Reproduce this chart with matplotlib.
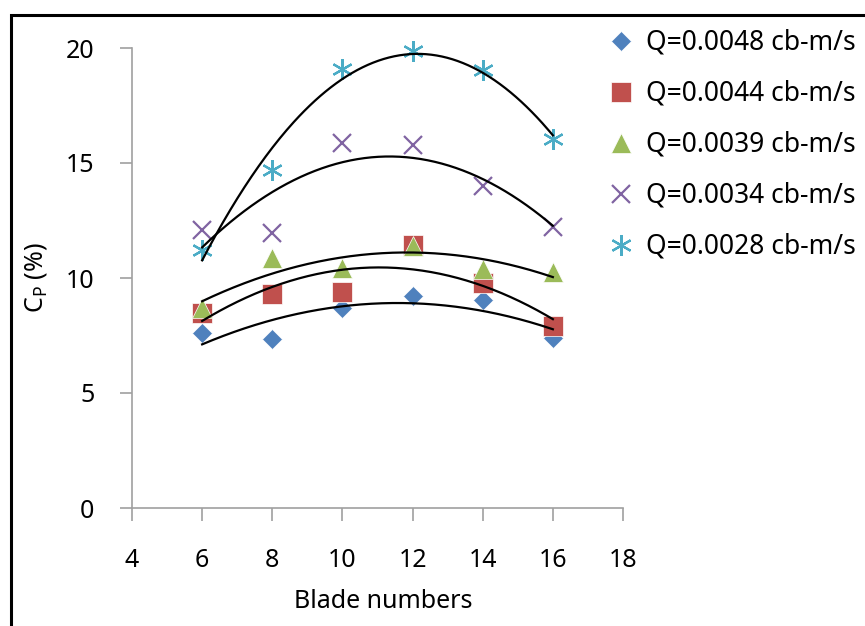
import matplotlib
matplotlib.use("Agg")
import matplotlib.pyplot as plt
from matplotlib.patches import Rectangle
import numpy as np

plt.rcParams['font.family'] = ['Noto Sans', 'DejaVu Sans']

# blade numbers and power coefficient (%) per flow rate
blades = [6, 8, 10, 12, 14, 16]
cp_48 = [7.6, 7.35, 8.7, 9.2, 9.05, 7.4]
cp_44 = [8.5, 9.3, 9.4, 11.45, 9.8, 7.9]
cp_39 = [8.7, 10.85, 10.45, 11.4, 10.4, 10.25]
cp_34 = [12.1, 11.95, 15.85, 15.8, 14.0, 12.2]
cp_28 = [11.2, 14.7, 19.1, 19.85, 19.05, 16.05]

labels = ["Q=0.0048 cb-m/s", "Q=0.0044 cb-m/s", "Q=0.0039 cb-m/s",
          "Q=0.0034 cb-m/s", "Q=0.0028 cb-m/s"]
series = [cp_48, cp_44, cp_39, cp_34, cp_28]
colors = ["#4F81BD", "#C0504D", "#9BBB59", "#8064A2", "#4BACC6"]
markers = ["D", "s", "^", "x", (6, 2, 0)]
sizes = [10, 14, 14, 13, 15]

fig = plt.figure(figsize=(8.65, 6.26), dpi=100)
ax = fig.add_axes([132 / 865, 118 / 626, 491 / 865, 460 / 626])

handles = []
for ys, c, m, s, lab in zip(series, colors, markers, sizes, labels):
    mew = 1.6 if m in ("x", (6, 2, 0)) else 0.5
    mec = c if m in ("x", (6, 2, 0)) else "white"
    h, = ax.plot(blades, ys, linestyle="none", marker=m, ms=s, color=c,
                 mec=mec, mew=mew, label=lab, zorder=2, clip_on=False)
    handles.append(h)

# second order trendlines
xs = np.linspace(blades[0], blades[-1], 200)
for ys in series:
    p = np.poly1d(np.polyfit(blades, ys, 2))
    ax.plot(xs, p(xs), color="black", lw=1.6, zorder=3)

ax.set_xlim(4, 18)
ax.set_ylim(0, 20)
ax.set_xticks(range(4, 19, 2))
ax.set_yticks(range(0, 21, 5))
for side in ("top", "right"):
    ax.spines[side].set_visible(False)
for side in ("left", "bottom"):
    ax.spines[side].set_color("#A0A0A0")
    ax.spines[side].set_linewidth(1.2)
ax.tick_params(axis="both", colors="#A0A0A0", length=9, width=1.2,
               labelcolor="black", labelsize=18)
ax.tick_params(axis="x", pad=20)
ax.tick_params(axis="y", pad=18)

fig.text(36 / 865, 1 - 278 / 626, r"C$_{\mathregular{P}}$ (%)", rotation=90,
         ha="center", va="center", fontsize=18)
fig.text(383 / 865, 1 - 601 / 626, "Blade numbers", ha="center", va="center",
         fontsize=18)

fig.legend(handles=handles, loc="upper left", bbox_to_anchor=(605 / 865, 1 - 29 / 626),
           frameon=False, fontsize=19, borderpad=0, borderaxespad=0,
           handlelength=1.25, handletextpad=0.3, labelspacing=0.87)

# page border
fig.patches.append(Rectangle((11 / 865, -0.1), 1.2, 1.1 - 15 / 626,
                             transform=fig.transFigure, fill=False,
                             edgecolor="black", lw=2.2))

fig.savefig("out.png", dpi=100)
